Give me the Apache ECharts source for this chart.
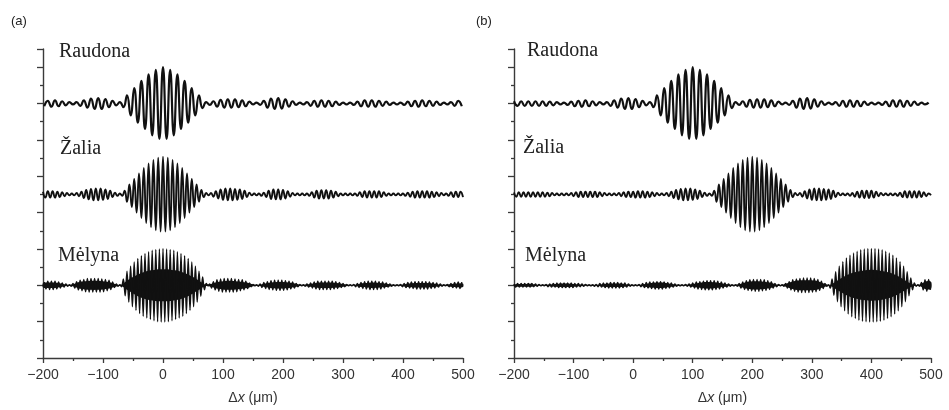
<!DOCTYPE html>
<html>
<head>
<meta charset="utf-8">
<script src="https://cdn.jsdelivr.net/npm/echarts/dist/echarts.min.js"></script>
<style>
  html, body { margin: 0; padding: 0; background: #fff; }
  #chart { width: 949px; height: 410px; }
</style>
</head>
<body>
<div id="chart"></div>
<script>
// Horizontal range and ticks (path difference, µm)
const X_MIN = -200, X_MAX = 500;
const X_TICKS = [-200, -100, 0, 100, 200, 300, 400, 500];

// Vertical offsets of the three stacked traces (20 units = one y tick)
const BASE_RAUDONA = 280, BASE_ZALIA = 180, BASE_MELYNA = 80;

const PANEL_TAGS = ['(a)', '(b)'];
const TRACE_NAMES = ['Raudona', '\u017Dalia', 'M\u0117lyna'];

// Fringe extrema (signed, units above/below the trace baseline) on uniform grids
// Panel (a), red: first extremum at -198 µm, one extremum every 6 µm
const RAUDONA_A_X0 = -198, RAUDONA_A_STEP = 6;
const RAUDONA_A = [
  -3,3,-3.5,3.5,-3,2.5,-2,1.5,-1,1.5,
  -2.5,3.5,-4.5,5.5,-6,6,-6,5,-4,3,
  -2,1.5,-4,9,-13,17,-21,25,-28,32,
  -35,37,-39,40,-39,37,-35,32,-28,25,
  -21,17,-13,9,-5,1.5,-1.5,2.5,-3.5,4,
  -4.5,4.5,-4.5,4.5,-4,3.5,-3,2,-1,1,
  -1.5,3,-4.5,5.5,-6,6,-5.5,4.5,-3.5,2.5,
  -1.5,1,-1,1.5,-2.5,3,-3.5,3.5,-3.5,3,
  -3,2,-1.5,1,-1,1,-1.5,2,-3,3.5,
  -3.5,3.5,-3.5,3,-2.5,2,-1.5,1,-1,1,
  -1.5,2,-3,3,-3.5,3.5,-3,3,-2.5,2,
  -1.5,1,-1,1.5,-2.5,3,-3
];

// Panel (a), green: from -200 µm, every 4 µm
const ZALIA_A_X0 = -200, ZALIA_A_STEP = 4;
const ZALIA_A = [
  3,-3.5,3.5,-3.5,3.5,-3.5,3,-3,2.5,-2,
  1.5,-1,1,-1,1.5,-2,3,-4,5,-5.5,
  6,-6.5,6.5,-6.5,6.5,-6,5.5,-5,4,-3,
  2,-1.5,1,-1.5,4,-8,11,-14,17,-20,
  23,-26,29,-31.5,34,-36,38,-39.5,40.5,-41,
  41.5,-41,40.5,-39.5,38,-36,34,-31.5,29,-26,
  23,-20,17,-14,11,-8,5,-3,1.5,-1,
  1.5,-2.5,3.5,-4.5,5.5,-6,6.5,-6.5,6.5,-6.5,
  6,-6,5.5,-5,4,-3,2,-1,1,-1,
  1,-1.5,2,-3,4,-5,5.5,-5.5,5.5,-5.5,
  5,-4.5,3.5,-2.5,1.5,-1,1,-1,1,-1,
  1,-1.5,2.5,-3.5,4,-4.5,4.5,-4.5,4.5,-4.5,
  4,-3.5,3,-2,1,-1,1,-1,1,-1,
  1,-1.5,2.5,-3,3.5,-3.5,3.5,-3.5,3.5,-3.5,
  3.5,-3,2.5,-1.5,1,-1,1,-1,1,-1,
  1,-1.5,2,-2.5,3,-3.5,3.5,-3.5,3.5,-3.5,
  3.5,-3.5,3,-3,2.5,-2,1.5,-1,1,-1.5,
  2.5,-3,3,-3,3,-3
];

// Panel (a), blue: from -198 µm, every 3 µm
const MELYNA_A_X0 = -198, MELYNA_A_STEP = 3;
const MELYNA_A = [
  3.5,-4,4.5,-4.5,4.5,-4.5,4.5,-4,3.5,-3,2.5,-2,1.5,-1,0.5,-1,
  2,-3,4,-5,5.5,-6,6.5,-7,7.5,-7.5,7.5,-7.5,7.5,-7.5,7.5,-7.5,7,-7,6.5,-6,5.5,-4.5,3.5,-2.5,1.5,-1,0.5,-1.5,
  7,-11.5,15.5,-18.5,21,-23.5,25.5,-27.5,29.5,-31,32.5,-34,35,-36,37,-37.5,38.5,-39,39.5,-40,40,-40.5,
  40.5,-40.5,40,-40,39.5,-39,38.5,-37.5,37,-36,35,-34,32.5,-31,29.5,-27.5,25.5,-23.5,21,-18.5,15.5,-12,9,-5,2,-0.5,
  1.5,-3,4,-5,6,-6.5,7,-7.5,7.5,-7.5,7.5,-7.5,7.5,-7.5,7,-7,6.5,-6,6,-5,4.5,-3.5,2.5,-1.5,1,-0.5,0.5,-1,
  1.5,-2.5,3,-3.5,4,-4.5,5,-5,5.5,-5.5,5.5,-5.5,5.5,-5.5,5,-5,4.5,-4,3.5,-3,2,-1.5,1,-0.5,0.5,-1,
  1.5,-2,2.5,-3,3.5,-4,4.5,-4.5,4.5,-4.5,4.5,-4.5,4.5,-4.5,4.5,-4,4,-3.5,3,-2.5,2,-1.5,1,-0.5,0.5,-0.5,1,
  -1.5,2,-2.5,3,-3.5,4,-4,4.5,-4.5,4.5,-4.5,4.5,-4.5,4,-4,3.5,-3,2.5,-2,1.5,-1,0.5,-0.5,0.5,-0.5,1,
  -1.5,2,-2.5,3,-3,3.5,-3.5,4,-4,4,-4,4,-4,4,-4,3.5,-3.5,3,-3,2.5,-2,1.5,-1,0.5,-0.5,1,
  -1.5,2,-2.5,3,-3,3.5,-3.5,3.5
];
// Dense core of the blue packets (half-thickness), every 10 µm from -200 µm
const MELYNA_A_CORE_X0 = -200, MELYNA_A_CORE_STEP = 10;
const MELYNA_A_CORE = [
  2.5,3,3,2,0.5,1,3.5,4.5,5,5,
  4.5,3.5,1.5,0.5,5,9,12.5,15,16.5,17.5,
  17.5,17.5,16.5,15,12.5,9,5,1,1.5,3.5,
  4.5,5,4.5,4,3,1,0.5,2,3,3.5,
  3.5,3,2,0.5,1,2,3,3,3,2.5,
  1.5,0.5,0.5,2,2.5,3,2.5,2,1,0.5,
  1,2,2.5,2.5,2.5,2,1,0.5,1.5,2,
  2
];

// Panel (b), red: from -200 µm, every 6 µm
const RAUDONA_B_X0 = -200, RAUDONA_B_STEP = 6;
const RAUDONA_B = [
  2.5,-2.5,2.5,-2.5,2.5,-2.5,2.5,-2.5,2.5,-2.5,
  2,-2,1.5,-1,1,-1.5,2,
  -3,3,-3.5,3.5,-3,2.5,-2,1.5,-1,1.5,
  -2.5,3.5,-4.5,5.5,-6,6,-6,5,-4,3,
  -2,1.5,-4,9,-13,17,-21,25,-28,32,
  -35,37,-39,40,-39,37,-35,32,-28,25,
  -21,17,-13,9,-5,1.5,-1.5,2.5,-3.5,4,
  -4.5,4.5,-4.5,4.5,-4,3.5,-3,2,-1,1,
  -1.5,3,-4.5,5.5,-6,6,-5.5,4.5,-3.5,2.5,
  -1.5,1,-1,1.5,-2.5,3,-3.5,3.5,-3.5,3,
  -3,2,-1.5,1,-1,1,-1.5,2,-3,3.5,
  -3.5,3.5,-3.5,3,-2.5,2,-1.5,1,-1,1
];

// Panel (b), green: from -200 µm, every 4 µm
const ZALIA_B_X0 = -200, ZALIA_B_STEP = 4;
const ZALIA_B = [
  2,-2.5,2.5,-2.5,2.5,-2.5,2.5,-2.5,2.5,-2.5,
  2.5,-2.5,2.5,-2.5,2,-2,1.5,-1,1,-1,
  1,-1,1,-1,1.5,-2,2.5,-3,3,-3,
  3,-3,3,-3,3,-3,2.5,-2,1.5,-1,
  1,-1,1,-1,1.5,-2,2.5,-3,3,-3,
  3,-3.5,3.5,-3.5,3.5,-3.5,3,-3,2.5,-2,
  1.5,-1,1,-1,1.5,-2,3,-4,5,-5.5,
  6,-6.5,6.5,-6.5,6.5,-6,5.5,-5,4,-3,
  2,-1.5,1,-1.5,4,-8,11,-14,17,-20,
  23,-26,29,-31.5,34,-36,38,-39.5,40.5,-41,
  41.5,-41,40.5,-39.5,38,-36,34,-31.5,29,-26,
  23,-20,17,-14,11,-8,5,-3,1.5,-1,
  1.5,-2.5,3.5,-4.5,5.5,-6,6.5,-6.5,6.5,-6.5,
  6,-6,5.5,-5,4,-3,2,-1,1,-1,
  1,-1.5,1.5,-2.5,3,-3.5,4,-4,4,-4,
  4,-3.5,3,-2,1.5,-1,1,-1,1,-1,
  1,-1.5,2,-3,3.5,-3.5,3.5,-3.5,3.5,-3.5,
  3.5,-3,2.5,-2,1,-1
];

// Panel (b), blue: from -200 µm, every 3 µm
const MELYNA_B_X0 = -200, MELYNA_B_STEP = 3;
const MELYNA_B = [
  1.5,-2,2,-2,2,-2,2,-2,2,-2,2,-1.5,1.5,-1,1,-0.5,0.5,-0.5,
  1,-1.5,1.5,-2,2,-2,2.5,-2.5,2.5,-2.5,2.5,-2.5,2.5,-2.5,2.5,-2.5,2,-2,2,-1.5,1.5,-1,1,-0.5,0.5,-0.5,0.5,-1,1,
  -1.5,2,-2,2.5,-2.5,2.5,-3,3,-3,3,-3,3,-3,2.5,-2.5,2.5,-2,1.5,-1,0.5,-0.5,0.5,-0.5,1,-1.5,
  2,-2.5,3,-3,3.5,-3.5,3.5,-4,4,-4,4,-4,3.5,-3.5,3,-3,2.5,-2,1.5,-1,0.5,-0.5,0.5,-0.5,1,-1,1.5,
  -2,2.5,-3,3.5,-4,4,-4.5,4.5,-5,5,-5,5,-5,5,-4.5,4.5,-4,3.5,-3,2.5,-2,1.5,-1,0.5,-0.5,0.5,-1,
  2,-3,3.5,-4.5,5,-5.5,6,-6,6.5,-6.5,6.5,-6.5,6.5,-6,6,-5.5,5,-4.5,4,-3,2,-1.5,1,-0.5,0.5,-1,
  2,-3,4,-5,6,-6.5,7,-7.5,7.5,-8,8,-8,8,-8,8,-7.5,7.5,-7,6.5,-5.5,4.5,-3.5,2,-1,0.5,
  -3,7,-11,15,-18,21,-23.5,26,-28,30,-31.5,33,-34.5,35.5,-36.5,37.5,-38.5,39,-39.5,40,
  -40,40.5,-40.5,40.5,-40.5,40.5,-40,40,-39.5,39,-38.5,37.5,-36.5,35.5,-34.5,33,-31.5,30,-28,26,
  -23.5,21,-18,15,-11.5,8,-5,2.5,-1,0.5,-1,
  3,-5,6,-6.5,6.5,-5
];
const MELYNA_B_CORE_X0 = -200, MELYNA_B_CORE_STEP = 10;
const MELYNA_B_CORE = [
  1,1.5,1.5,1.5,0.5,0.5,1,1.5,2,2,
  1.5,1,0.5,0.5,0.5,1.5,2,2,2,1,
  0.5,0.5,1.5,2.5,3,3,2,1,0.5,0.5,
  1.5,2.5,3.5,3.5,3,2,1,0.5,1.5,3.5,
  4.5,4.5,4,3,1,0.5,2.5,4.5,5.5,5.5,
  5.5,4.5,2,0.5,4,8,11.5,14,15.5,16.5,
  17,16.5,15.5,14,11.5,8,4,1,0.5,4,
  4
];

// ---- building the series ----
const INK = '#111';
const AXIS = '#3a3a3a';

function trace(x0, step, vals, base) {
  return vals.map((v, i) => [x0 + i * step, base + v]);
}

function lineSeries(panel, data, width, smooth) {
  return {
    type: 'line', xAxisIndex: panel, yAxisIndex: panel, data,
    symbol: 'none', showSymbol: false, smooth, silent: true,
    lineStyle: { color: INK, width }, z: 3
  };
}

// Solid core of the blue trace: a closed outline through +core and -core
function coreSeries(panel, x0, step, vals, base) {
  return {
    type: 'custom', xAxisIndex: panel, yAxisIndex: panel, silent: true, z: 2,
    data: [[x0, base]],
    renderItem: (params, api) => {
      const upper = vals.map((v, i) => api.coord([x0 + i * step, base + v]));
      const lower = vals.map((v, i) => api.coord([x0 + i * step, base - v])).reverse();
      return {
        type: 'polygon',
        shape: { points: upper.concat(lower), smooth: 0.3 },
        style: { fill: INK }
      };
    }
  };
}

const minus = v => String(v).replace('-', '\u2212');

function xAxis(panel) {
  return {
    type: 'value', gridIndex: panel, min: X_MIN, max: X_MAX, interval: 100,
    axisLine: { show: true, onZero: false, lineStyle: { color: AXIS, width: 1.4 } },
    axisTick: { show: true, length: 5, lineStyle: { color: AXIS, width: 1.3 } },
    minorTick: { show: true, splitNumber: 2, length: 3, lineStyle: { color: AXIS, width: 1.3 } },
    splitLine: { show: false },
    axisLabel: {
      color: '#333', fontSize: 14, fontFamily: 'Liberation Sans', margin: 10,
      customValues: X_TICKS, formatter: minus
    },
    name: '{n|\u0394}{i|x}{n| (\u03BCm)}',
    nameLocation: 'middle', nameGap: 33,
    nameTextStyle: {
      rich: {
        n: { fontSize: 14, fontFamily: 'Liberation Sans', color: '#333' },
        i: { fontSize: 14, fontFamily: 'Liberation Sans', fontStyle: 'italic', color: '#333' }
      }
    }
  };
}
function yAxis(panel) {
  return {
    type: 'value', gridIndex: panel, min: 0, max: 340, interval: 40,
    axisLine: { show: true, onZero: false, lineStyle: { color: AXIS, width: 1.4 } },
    axisTick: { show: true, length: 6, lineStyle: { color: AXIS, width: 1.3 } },
    minorTick: { show: true, splitNumber: 2, length: 3, lineStyle: { color: AXIS, width: 1.3 } },
    axisLabel: { show: false },
    splitLine: { show: false }
  };
}

function label(text, x, y, font) {
  return {
    type: 'text', x, y, silent: true,
    style: { text, font, fill: '#222', textAlign: 'left', textVerticalAlign: 'middle',
             align: 'left', verticalAlign: 'middle' }
  };
}
const SERIF = '20px "Liberation Serif"';
const SANS = '13px "Liberation Sans"';

const option = {
  animation: false,
  backgroundColor: '#fff',
  grid: [
    { left: 43, top: 49, width: 420, height: 312 },
    { left: 514, top: 49, width: 417, height: 312 }
  ],
  xAxis: [xAxis(0), xAxis(1)],
  yAxis: [yAxis(0), yAxis(1)],
  graphic: [
    label(PANEL_TAGS[0], 11, 21, SANS),
    label(PANEL_TAGS[1], 476, 21, SANS),
    label(TRACE_NAMES[0], 59, 52, SERIF),
    label(TRACE_NAMES[1], 60, 149, SERIF),
    label(TRACE_NAMES[2], 58, 256, SERIF),
    label(TRACE_NAMES[0], 527, 51, SERIF),
    label(TRACE_NAMES[1], 523, 148, SERIF),
    label(TRACE_NAMES[2], 525, 256, SERIF)
  ],
  series: [
    coreSeries(0, MELYNA_A_CORE_X0, MELYNA_A_CORE_STEP, MELYNA_A_CORE, BASE_MELYNA),
    coreSeries(1, MELYNA_B_CORE_X0, MELYNA_B_CORE_STEP, MELYNA_B_CORE, BASE_MELYNA),
    lineSeries(0, trace(RAUDONA_A_X0, RAUDONA_A_STEP, RAUDONA_A, BASE_RAUDONA), 2.2, 0.5),
    lineSeries(0, trace(ZALIA_A_X0, ZALIA_A_STEP, ZALIA_A, BASE_ZALIA), 1.9, 0.5),
    lineSeries(0, trace(MELYNA_A_X0, MELYNA_A_STEP, MELYNA_A, BASE_MELYNA), 1.5, 0.3),
    lineSeries(1, trace(RAUDONA_B_X0, RAUDONA_B_STEP, RAUDONA_B, BASE_RAUDONA), 2.2, 0.5),
    lineSeries(1, trace(ZALIA_B_X0, ZALIA_B_STEP, ZALIA_B, BASE_ZALIA), 1.9, 0.5),
    lineSeries(1, trace(MELYNA_B_X0, MELYNA_B_STEP, MELYNA_B, BASE_MELYNA), 1.5, 0.3)
  ]
};

const chart = echarts.init(document.getElementById('chart'), null, { renderer: 'canvas' });
chart.setOption(option);
</script>
</body>
</html>
